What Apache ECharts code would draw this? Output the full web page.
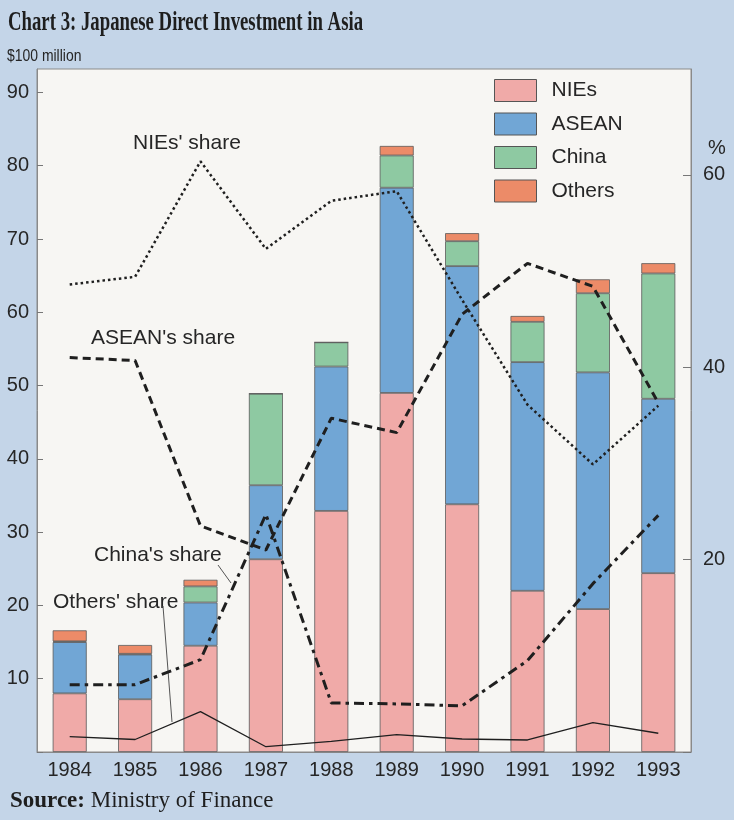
<!DOCTYPE html>
<html lang="en">
<head>
    <meta charset="UTF-8">
    <title>Japanese Direct Investment in Asia</title>
    <script src="https://cdn.jsdelivr.net/npm/echarts@6/dist/echarts.min.js"></script>
    <style>
        html, body { margin: 0; padding: 0; background: #c4d5e8; }
    </style>
</head>
<body>
    <div id="main" style="width:734px;height:820px;"></div>
</body>
<script>
// data
var years = ['1984','1985','1986','1987','1988','1989','1990','1991','1992','1993'];
// $100 million
var nies   = [8.0, 7.2, 14.5, 26.3, 32.9, 49.0, 33.8, 22.0, 19.5, 24.4];
var asean  = [7.0, 6.1, 5.9, 10.1, 19.7, 28.0, 32.5, 31.2, 32.3, 23.8];
var china  = [0.1, 0.1, 2.2, 12.5, 3.3, 4.4, 3.4, 5.5, 10.8, 17.1];
var others = [1.5, 1.2, 0.9, 0, 0, 1.3, 1.1, 0.8, 1.9, 1.4];
// shares, %
var niesShare   = [48.6, 49.4, 61.4, 52.3, 57.3, 58.3, 47.0, 36.1, 29.9, 36.0];
var aseanShare  = [41.0, 40.7, 23.5, 21.0, 34.7, 33.2, 45.5, 50.8, 48.4, 36.3];
var chinaShare  = [7.0, 7.0, 9.6, 24.7, 5.1, 5.0, 4.8, 9.5, 17.5, 24.6];
var othersShare = [1.6, 1.3, 4.2, 0.55, 1.1, 1.8, 1.35, 1.25, 3.05, 1.95];
var leftTicks  = [10, 20, 30, 40, 50, 60, 70, 80, 90];
var rightTicks = [20, 40, 60];

var chart = echarts.init(document.getElementById('main'));

var textColor = '#262626';
var lineColor = '#1f1f1f';

function barSeries(name, data, color) {
    return {
        name: name,
        type: 'bar',
        stack: 'total',
        barWidth: 34,
        data: data,
        itemStyle: { color: color, borderColor: '#5a5a5a', borderWidth: 0.8 }
    };
}

function shareSeries(name, data, type, width) {
    return {
        name: name,
        type: 'line',
        yAxisIndex: 1,
        symbol: 'none',
        z: 5,
        data: data,
        lineStyle: { color: lineColor, width: width, type: type }
    };
}

chart.setOption({
    backgroundColor: '#c4d5e8',
    animation: false,
    grid: {
        left: 37, right: 43, top: 69, bottom: 68,
        show: true,
        backgroundColor: '#f7f6f3',
        borderColor: '#8a8a8a',
        borderWidth: 1
    },
    legend: {
        orient: 'vertical',
        left: 494,
        top: 79,
        padding: 0,
        itemWidth: 42,
        itemHeight: 22,
        itemGap: 10.5,
        icon: 'rect',
        itemStyle: { borderColor: '#555', borderWidth: 1 },
        textStyle: { fontFamily: 'Liberation Sans', fontSize: 21, color: textColor, padding: [0, 0, 0, 10] },
        data: ['NIEs', 'ASEAN', 'China', 'Others']
    },
    xAxis: {
        type: 'category',
        data: years,
        axisLine: { show: true, lineStyle: { color: '#8a8a8a' } },
        axisTick: { show: false },
        axisLabel: { fontFamily: 'Liberation Sans', fontSize: 20, color: textColor, margin: 8 }
    },
    yAxis: [
        {
            type: 'value',
            min: 0,
            max: 93.2,
            interval: 10,
            splitLine: { show: false },
            axisLine: { show: true, lineStyle: { color: '#8a8a8a' } },
            axisTick: { show: true, inside: true, length: 6, lineStyle: { color: '#777' } },
            axisLabel: {
                showMaxLabel: false,
                fontFamily: 'Liberation Sans', fontSize: 20, color: textColor, margin: 8,
                formatter: function (v) { return leftTicks.indexOf(v) >= 0 ? String(v) : ''; }
            }
        },
        {
            type: 'value',
            min: 0,
            max: 71,
            interval: 20,
            position: 'right',
            splitLine: { show: false },
            axisLine: { show: true, lineStyle: { color: '#8a8a8a' } },
            axisTick: { show: true, inside: true, length: 8, lineStyle: { color: '#777' } },
            axisLabel: {
                showMaxLabel: false,
                fontFamily: 'Liberation Sans', fontSize: 20, color: textColor, margin: 12,
                formatter: function (v) { return rightTicks.indexOf(v) >= 0 ? String(v) : ''; }
            }
        }
    ],
    series: [
        barSeries('NIEs', nies, '#f0aaa8'),
        barSeries('ASEAN', asean, '#71a6d5'),
        barSeries('China', china, '#8ec9a2'),
        barSeries('Others', others, '#ec8b68'),
        shareSeries("NIEs' share", niesShare, [2.5, 3], 2.5),
        shareSeries("ASEAN's share", aseanShare, [8, 5], 3),
        shareSeries("China's share", chinaShare, [10, 5, 3.5, 5], 3),
        shareSeries("Others' share", othersShare, 'solid', 1.3)
    ],
    graphic: [
        {
            type: 'text', x: 8, y: 23, scaleX: 0.67,
            style: { text: 'Chart 3: Japanese Direct Investment in Asia', font: 'bold 28px "Liberation Serif"', fill: '#1e1e1e', verticalAlign: 'middle' }
        },
        {
            type: 'text', x: 7, y: 56, scaleX: 0.82,
            style: { text: '$100 million', font: '17px "Liberation Sans"', fill: textColor, verticalAlign: 'middle' }
        },
        {
            type: 'text', x: 708, y: 148,
            style: { text: '%', font: '20px "Liberation Sans"', fill: textColor, verticalAlign: 'middle' }
        },
        {
            type: 'text', x: 133, y: 143,
            style: { text: "NIEs' share", font: '21px "Liberation Sans"', fill: textColor, verticalAlign: 'middle' }
        },
        {
            type: 'text', x: 91, y: 338,
            style: { text: "ASEAN's share", font: '21px "Liberation Sans"', fill: textColor, verticalAlign: 'middle' }
        },
        {
            type: 'text', x: 94, y: 555,
            style: { text: "China's share", font: '21px "Liberation Sans"', fill: textColor, verticalAlign: 'middle' }
        },
        {
            type: 'text', x: 53, y: 602,
            style: { text: "Others' share", font: '21px "Liberation Sans"', fill: textColor, verticalAlign: 'middle' }
        },
        {
            type: 'line', shape: { x1: 218, y1: 565, x2: 231, y2: 583 },
            style: { stroke: '#555', lineWidth: 1 }
        },
        {
            type: 'line', shape: { x1: 163, y1: 606, x2: 172, y2: 722 },
            style: { stroke: '#555', lineWidth: 1 }
        },
        {
            type: 'text', x: 10, y: 801,
            style: {
                text: '{b|Source:} Ministry of Finance',
                font: '23px "Liberation Serif"',
                fill: '#1e1e1e',
                verticalAlign: 'middle',
                rich: { b: { fontWeight: 'bold', fontFamily: 'Liberation Serif', fontSize: 23, fill: '#1e1e1e' } }
            }
        }
    ]
});
</script>
</html>
